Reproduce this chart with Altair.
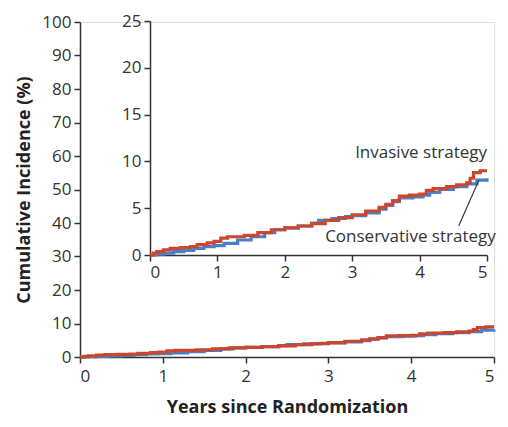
import altair as alt
import pandas as pd

# Invasive strategy (red)
inv_t = [0, 0.05, 0.1, 0.2, 0.3, 0.45, 0.6, 0.7, 0.85, 0.95, 1.05, 1.15, 1.4, 1.6, 1.8, 2.0, 2.2, 2.4,
         2.6, 2.8, 3.0, 3.2, 3.4, 3.5, 3.6, 3.7, 3.85, 4.0, 4.1, 4.2, 4.4, 4.55, 4.7, 4.75, 4.8, 4.9, 5.0]
inv_v = [0, 0.2, 0.35, 0.55, 0.7, 0.8, 0.9, 1.1, 1.3, 1.45, 1.8, 1.95, 2.1, 2.4, 2.7, 2.9, 3.1, 3.35,
         3.7, 4.0, 4.3, 4.7, 5.1, 5.4, 5.8, 6.3, 6.4, 6.5, 6.9, 7.1, 7.3, 7.5, 7.7, 8.2, 8.8, 9.0, 9.0]
# Conservative strategy (blue)
con_t = [0, 0.1, 0.2, 0.35, 0.5, 0.65, 0.8, 0.95, 1.1, 1.3, 1.5, 1.7, 1.85, 2.0, 2.2, 2.4, 2.5, 2.7,
         2.9, 3.0, 3.2, 3.4, 3.5, 3.6, 3.7, 3.9, 4.05, 4.15, 4.3, 4.5, 4.7, 4.85, 5.0]
con_v = [0, 0.1, 0.2, 0.35, 0.5, 0.7, 0.9, 1.0, 1.25, 1.6, 1.95, 2.4, 2.7, 2.9, 3.1, 3.4, 3.7, 3.9,
         4.1, 4.2, 4.5, 4.9, 5.3, 5.7, 6.1, 6.2, 6.4, 6.7, 7.0, 7.3, 7.6, 8.0, 8.2]

series = ["Conservative strategy", "Invasive strategy"]
colors = ["#4C7EC8", "#C9472E"]

main_y_ticks = [0, 10, 20, 30, 40, 50, 60, 70, 80, 90, 100]
inset_y_ticks = [0, 5, 10, 15, 20, 25]
x_ticks = [0, 1, 2, 3, 4, 5]

labels = ["Invasive strategy", "Conservative strategy"]
label_x = [5.0, 5.13]
label_y = [10.9, 1.9]
leader_x = [4.58]
leader_x2 = [4.88]
leader_y = [3.1]
leader_y2 = [8.0]

# conservative first so the invasive (red) line is drawn on top
df = pd.DataFrame({
    "t": con_t + inv_t,
    "v": con_v + inv_v,
    "s": [series[0]] * len(con_t) + [series[1]] * len(inv_t),
})
lab_df = pd.DataFrame({"label": labels, "x": label_x, "y": label_y})
lead_df = pd.DataFrame({"x": leader_x, "x2": leader_x2, "y": leader_y, "y2": leader_y2})

FONT = "Open Sans"
axis_common = dict(
    labelFont=FONT, labelFontSize=17, labelColor="#333333", format="d",
    domainColor="#333333", domainWidth=1.5, tickColor="#333333", tickWidth=1.5,
    tickSize=6, grid=False,
)

color = alt.Color("s:N", scale=alt.Scale(domain=series, range=colors), legend=None)

main = alt.Chart(df).mark_line(interpolate="step-after", strokeWidth=3.2).encode(
    x=alt.X("t:Q", scale=alt.Scale(domain=[0, 5], nice=False),
            axis=alt.Axis(values=x_ticks, title="Years since Randomization",
                          titleFont=FONT, titleFontSize=18, titleFontWeight="bold",
                          titleColor="#222222", titlePadding=14, labelPadding=5, **axis_common)),
    y=alt.Y("v:Q", scale=alt.Scale(domain=[0, 100], nice=False),
            axis=alt.Axis(values=main_y_ticks, title="Cumulative Incidence (%)",
                          titleFont=FONT, titleFontSize=18, titleFontWeight="bold",
                          titleColor="#222222", titlePadding=8, labelPadding=3, **axis_common)),
    color=color,
)

xs_in = alt.Scale(domain=[0, 5], nice=False, range=[70, 407])
ys_in = alt.Scale(domain=[0, 25], nice=False, range=[233, -1])

inset_lines = alt.Chart(df).mark_line(interpolate="step-after", strokeWidth=3.2).encode(
    x=alt.X("t:Q", scale=xs_in,
            axis=alt.Axis(values=x_ticks, title=None, orient="bottom", offset=-102,
                          labelPadding=3, **axis_common)),
    y=alt.Y("v:Q", scale=ys_in,
            axis=alt.Axis(values=inset_y_ticks, title=None, orient="left", offset=-70,
                          labelPadding=3, **axis_common)),
    color=color,
)

texts = alt.Chart(lab_df).mark_text(font=FONT, fontSize=17, align="right", baseline="middle",
                                    color="#333333").encode(
    x=alt.X("x:Q", scale=xs_in),
    y=alt.Y("y:Q", scale=ys_in),
    text="label:N",
)

leader = alt.Chart(lead_df).mark_rule(color="#333333", strokeWidth=1.2).encode(
    x=alt.X("x:Q", scale=xs_in),
    x2="x2:Q",
    y=alt.Y("y:Q", scale=ys_in),
    y2="y2:Q",
)

inset = alt.layer(inset_lines, leader, texts)

chart = alt.layer(main, inset).resolve_scale(x="independent", y="independent").properties(
    width=414, height=335,
    autosize=alt.AutoSizeParams(type="none"),
    padding={"left": 72, "top": 14, "right": 6, "bottom": 60},
).configure_view(stroke=None).configure(background="white")

chart.save("out.html", embed_options={"renderer": "svg", "actions": False})
